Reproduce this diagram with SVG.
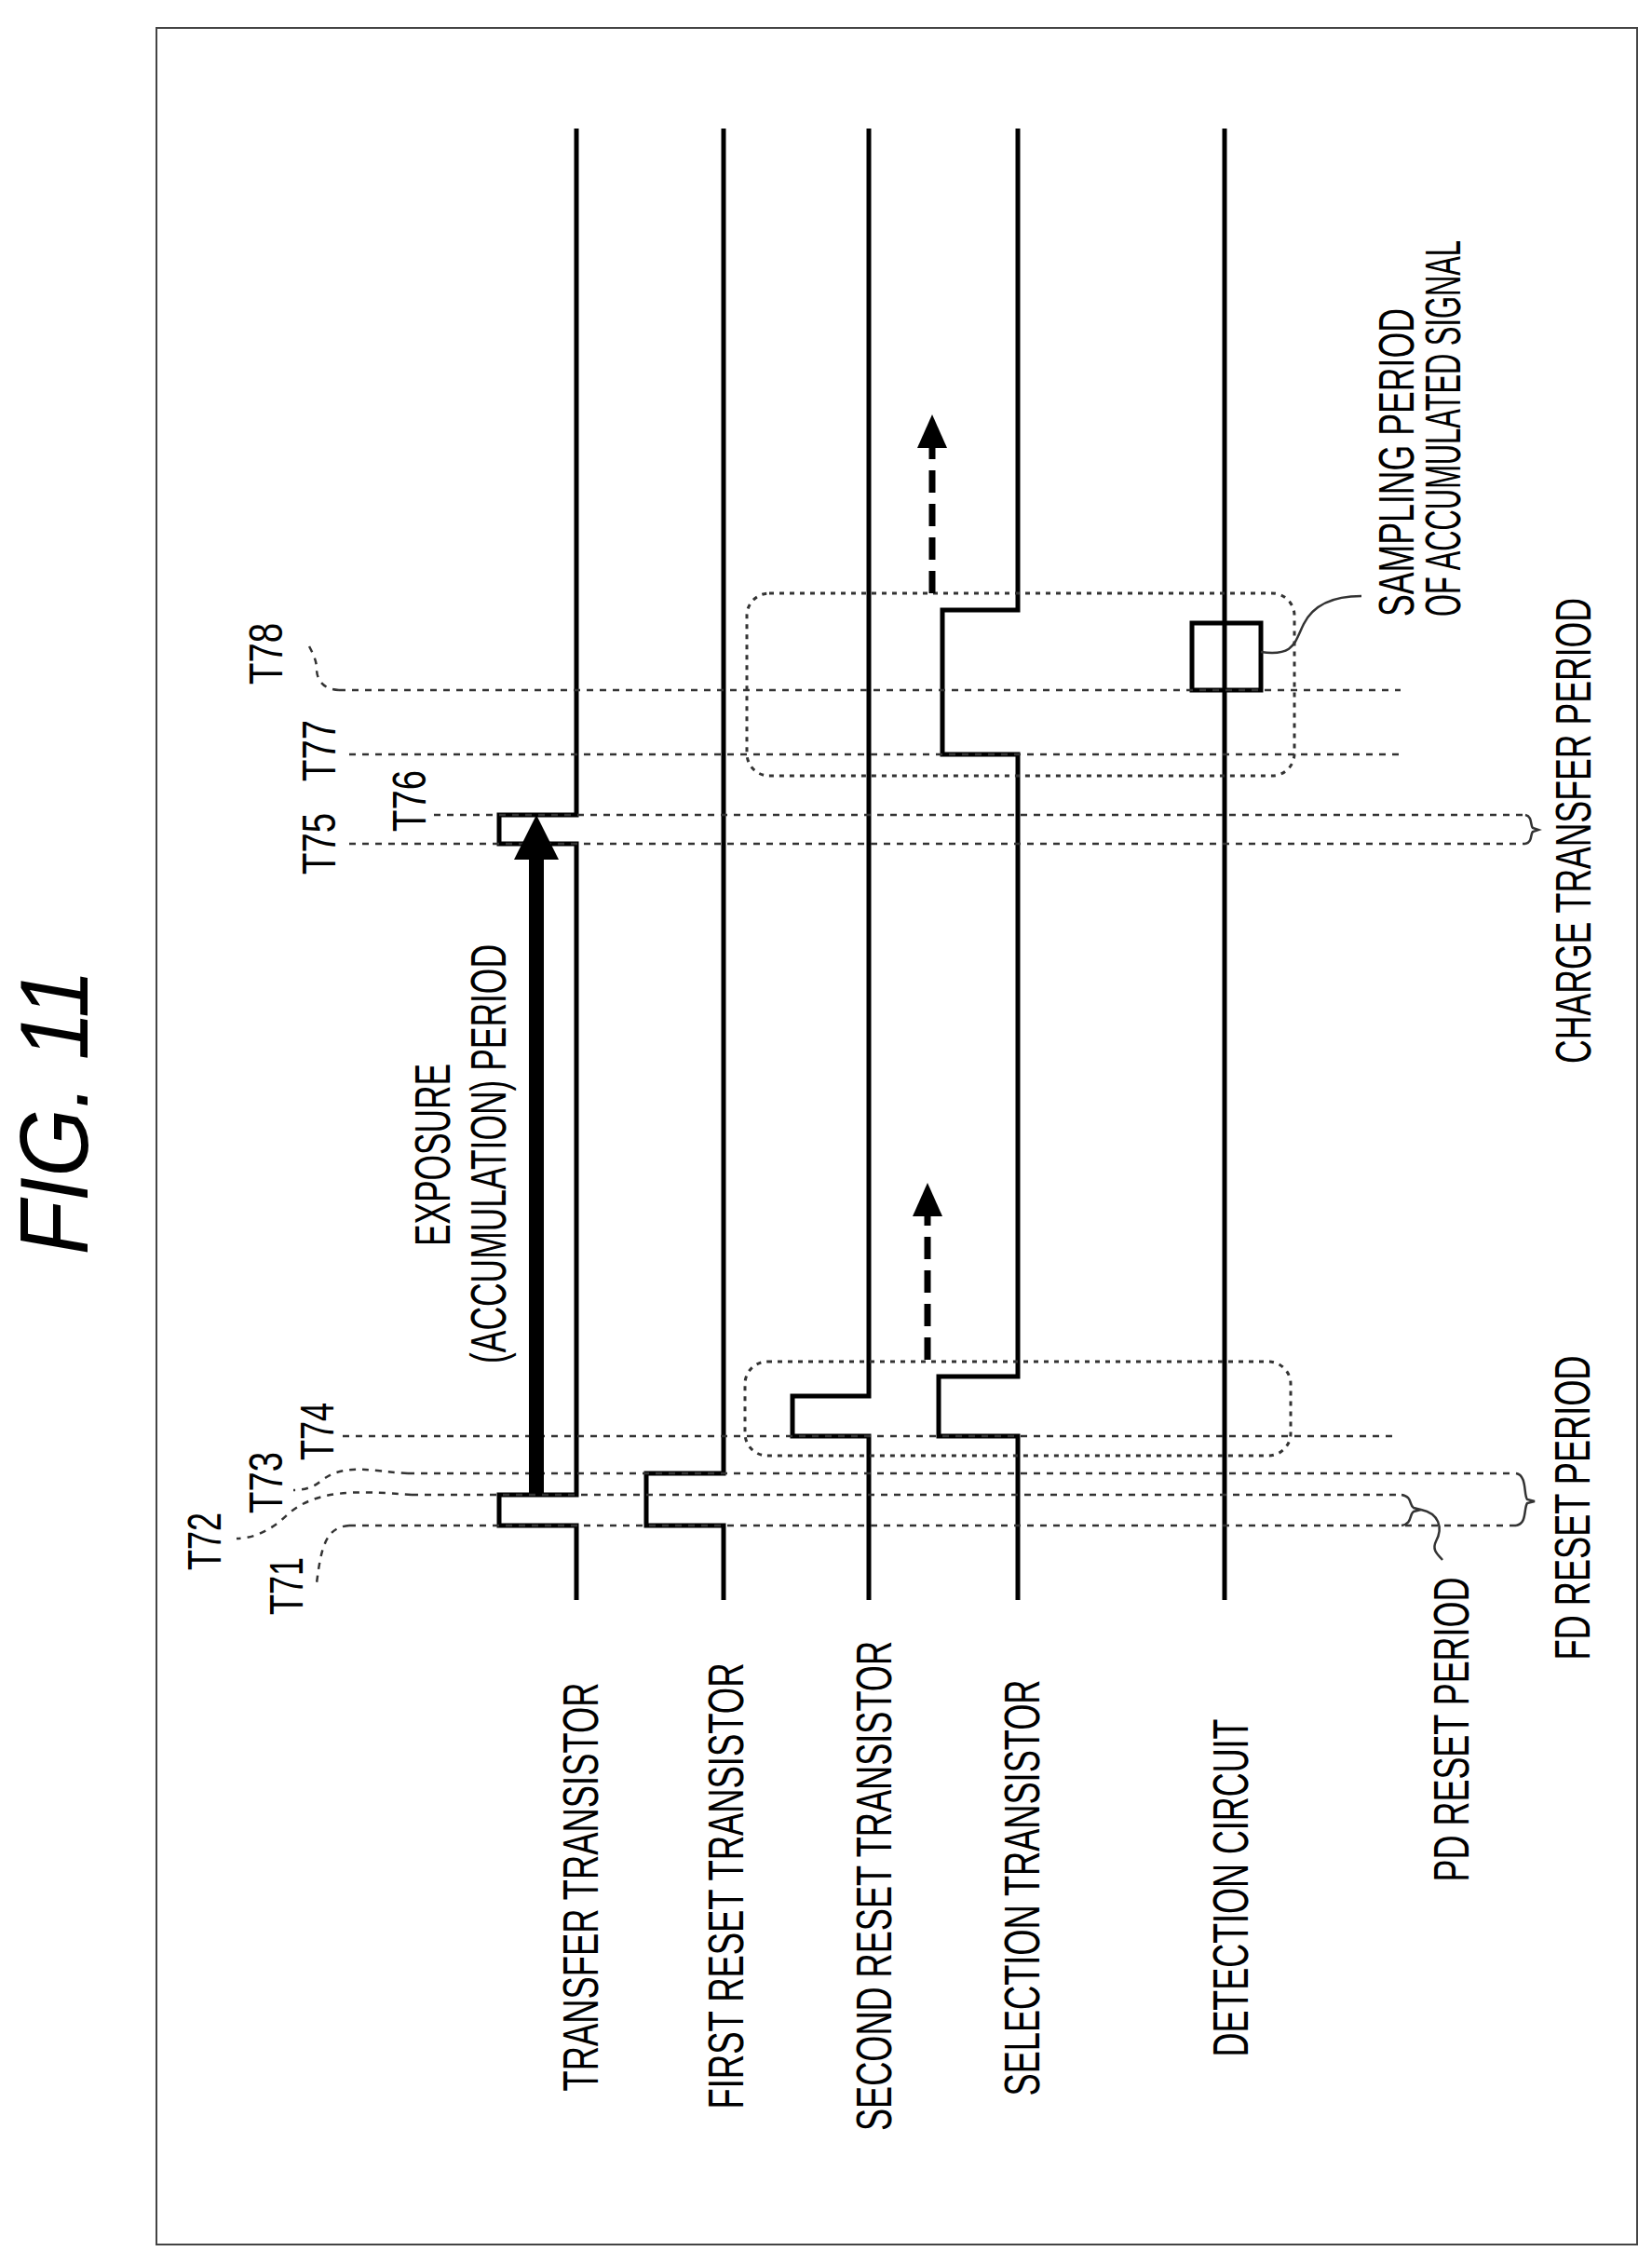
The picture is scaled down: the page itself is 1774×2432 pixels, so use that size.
<svg xmlns="http://www.w3.org/2000/svg" width="1774" height="2432" viewBox="0 0 1774 2432">
<style>
text{font-family:"Liberation Sans",Arial,sans-serif;fill:#000}
.lbl{font-size:54px}
.t{font-size:50px}
.sig{fill:none;stroke:#000;stroke-width:5}
.tl{fill:none;stroke:#333;stroke-width:2.5;stroke-dasharray:7 7}
.box{fill:none;stroke:#333;stroke-width:3;stroke-dasharray:5 6}
.da{fill:none;stroke:#000;stroke-width:7;stroke-dasharray:24 12}
.br{fill:none;stroke:#333;stroke-width:2.5}
</style>
<rect x="168" y="30" width="1590" height="2380" fill="none" stroke="#444" stroke-width="2"/>
<text x="94" y="1194" font-size="104" font-style="italic" text-anchor="middle" textLength="307" lengthAdjust="spacingAndGlyphs" transform="rotate(-90 94 1194)">FIG. 11</text>
<g id="signals">
<path id="transfer" class="sig" d="M619,138V875H536V906H619V1605H536V1638H619V1718"/>
<path id="firstreset" class="sig" d="M777,138V1582H694V1638H777V1718"/>
<path id="secondreset" class="sig" d="M933,138V1499H851V1542H933V1718"/>
<path id="selection" class="sig" d="M1093,138V655H1012V810H1093V1478H1008V1542H1093V1718"/>
<path id="detection" class="sig" stroke-width="3.5" d="M1315,138V1718"/>
<rect id="sampling" x="1280" y="669" width="74" height="72" fill="none" stroke="#000" stroke-width="5"/>
</g>
<g id="connectors">
<path class="tl" d="M375,1638H1628"/>
<path class="tl" d="M442,1605H1505"/>
<path class="tl" d="M438,1582H1628"/>
<path class="tl" d="M368,1542H1496"/>
<path class="tl" d="M375,906H1638"/>
<path class="tl" d="M466,875H1638"/>
<path class="tl" d="M375,810H1504"/>
<path class="tl" d="M364,741H1504"/>
<path class="tl" d="M375,1638C350,1640 345,1660 340,1700"/>
<path class="tl" d="M442,1605C380,1600 340,1600 310,1625C290,1645 270,1652 254,1652"/>
<path class="tl" d="M438,1582C400,1580 370,1570 345,1590C335,1598 325,1600 315,1600"/>
<path class="tl" d="M364,741C345,740 340,728 340,718C340,708 335,700 330,690"/>
<rect class="box" x="800" y="1462" width="586" height="101" rx="24"/>
<rect class="box" x="802" y="637" width="588" height="196" rx="24"/>
<rect x="568" y="918" width="16" height="685" fill="#000"/>
<polygon points="576,875 552,923 600,923" fill="#000"/>
<path class="da" d="M996,1460V1300"/>
<polygon points="996,1270 980,1306 1012,1306" fill="#000"/>
<path class="da" d="M1001,637V475"/>
<polygon points="1001,445 985,481 1017,481" fill="#000"/>
<path class="br" d="M1628,1582C1640,1584 1636,1605 1640,1610L1648,1612L1640,1614C1636,1620 1640,1636 1628,1638"/>
<path class="br" d="M1505,1605C1517,1607 1513,1616 1518,1619L1526,1621L1518,1623C1513,1626 1517,1636 1505,1638"/>
<path class="br" d="M1526,1621C1545,1625 1550,1640 1542,1655C1537,1665 1545,1670 1549,1675"/>
<path class="br" d="M1638,875C1646,877 1643,886 1646,889L1652,891L1646,893C1643,896 1646,904 1638,906"/>
<path class="br" d="M1354,700C1390,705 1390,690 1400,670C1410,650 1430,640 1462,640"/>
</g>
<g id="labels">
<text class="lbl" x="642" y="2026" text-anchor="middle" textLength="439" lengthAdjust="spacingAndGlyphs" transform="rotate(-90 642 2026)">TRANSFER TRANSISTOR</text>
<text class="lbl" x="798" y="2025" text-anchor="middle" textLength="479" lengthAdjust="spacingAndGlyphs" transform="rotate(-90 798 2025)">FIRST RESET TRANSISTOR</text>
<text class="lbl" x="957" y="2025" text-anchor="middle" textLength="526" lengthAdjust="spacingAndGlyphs" transform="rotate(-90 957 2025)">SECOND RESET TRANSISTOR</text>
<text class="lbl" x="1116" y="2027" text-anchor="middle" textLength="447" lengthAdjust="spacingAndGlyphs" transform="rotate(-90 1116 2027)">SELECTION TRANSISTOR</text>
<text class="lbl" x="1340" y="2027" text-anchor="middle" textLength="363" lengthAdjust="spacingAndGlyphs" transform="rotate(-90 1340 2027)">DETECTION CIRCUIT</text>
<text class="lbl" x="1577" y="1857" text-anchor="middle" textLength="327" lengthAdjust="spacingAndGlyphs" transform="rotate(-90 1577 1857)">PD RESET PERIOD</text>
<text class="lbl" x="1707" y="1619" text-anchor="middle" textLength="327" lengthAdjust="spacingAndGlyphs" transform="rotate(-90 1707 1619)">FD RESET PERIOD</text>
<text class="lbl" x="1708" y="892" text-anchor="middle" textLength="500" lengthAdjust="spacingAndGlyphs" transform="rotate(-90 1708 892)">CHARGE TRANSFER PERIOD</text>
<text class="lbl" x="1518" y="662" textLength="331" lengthAdjust="spacingAndGlyphs" transform="rotate(-90 1518 662)">SAMPLING PERIOD</text>
<text class="lbl" x="1568" y="662" textLength="404" lengthAdjust="spacingAndGlyphs" transform="rotate(-90 1568 662)">OF ACCUMULATED SIGNAL</text>
<text class="lbl" x="483" y="1240" text-anchor="middle" textLength="196" lengthAdjust="spacingAndGlyphs" transform="rotate(-90 483 1240)">EXPOSURE</text>
<text class="lbl" x="543" y="1239" text-anchor="middle" textLength="450" lengthAdjust="spacingAndGlyphs" transform="rotate(-90 543 1239)">(ACCUMULATION) PERIOD</text>
<text class="t" x="325" y="1703" text-anchor="middle" textLength="62" lengthAdjust="spacingAndGlyphs" transform="rotate(-90 325 1703)">T71</text>
<text class="t" x="237" y="1655" text-anchor="middle" textLength="62" lengthAdjust="spacingAndGlyphs" transform="rotate(-90 237 1655)">T72</text>
<text class="t" x="303" y="1592" text-anchor="middle" textLength="66" lengthAdjust="spacingAndGlyphs" transform="rotate(-90 303 1592)">T73</text>
<text class="t" x="358" y="1537" text-anchor="middle" textLength="62" lengthAdjust="spacingAndGlyphs" transform="rotate(-90 358 1537)">T74</text>
<text class="t" x="360" y="906" text-anchor="middle" textLength="66" lengthAdjust="spacingAndGlyphs" transform="rotate(-90 360 906)">T75</text>
<text class="t" x="457" y="860" text-anchor="middle" textLength="66" lengthAdjust="spacingAndGlyphs" transform="rotate(-90 457 860)">T76</text>
<text class="t" x="360" y="806" text-anchor="middle" textLength="66" lengthAdjust="spacingAndGlyphs" transform="rotate(-90 360 806)">T77</text>
<text class="t" x="303" y="702" text-anchor="middle" textLength="66" lengthAdjust="spacingAndGlyphs" transform="rotate(-90 303 702)">T78</text>
</g>
</svg>
